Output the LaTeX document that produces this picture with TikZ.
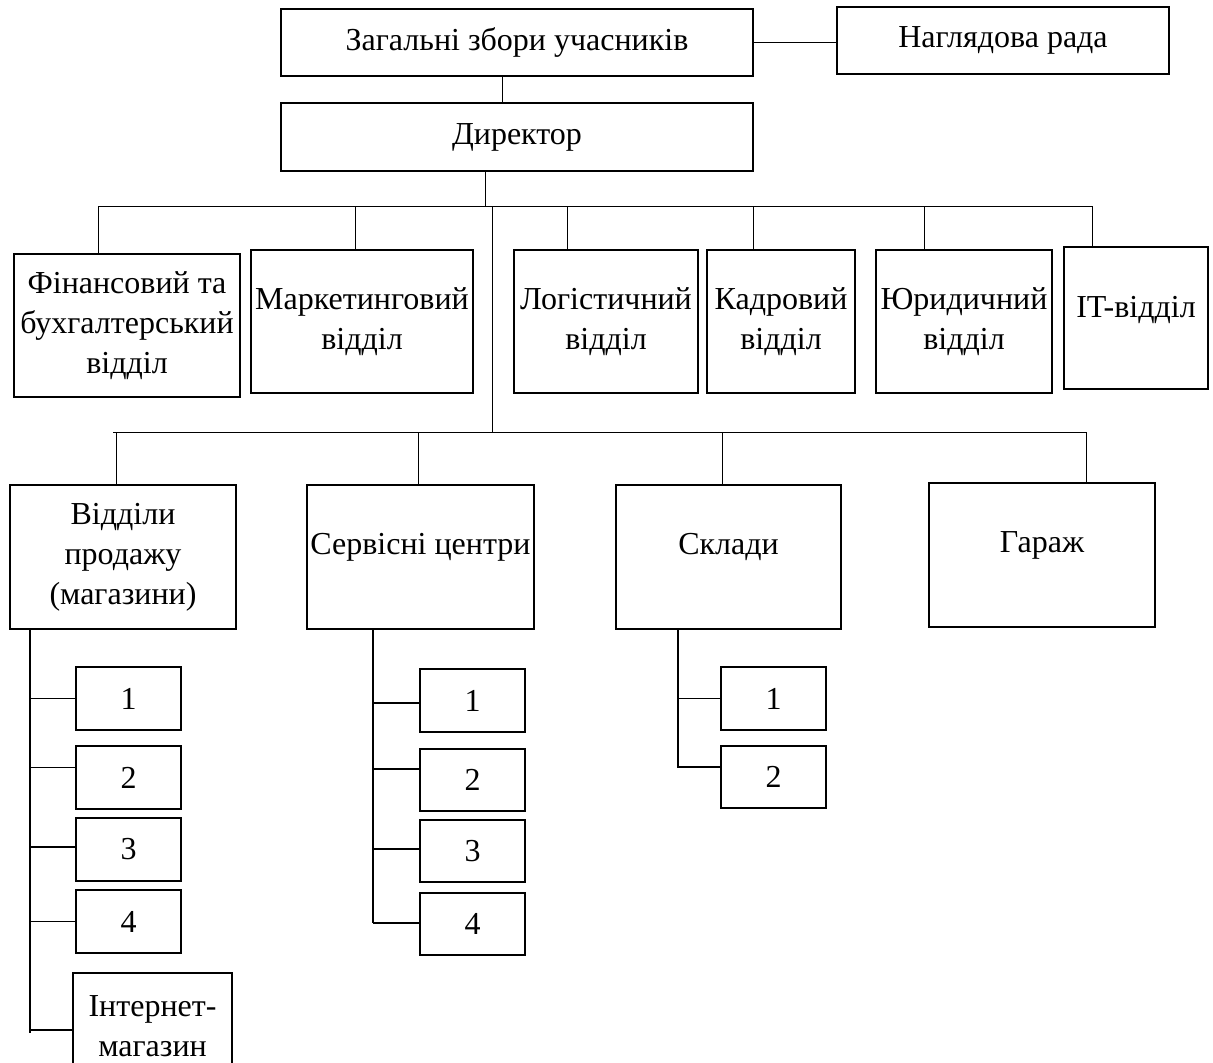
\documentclass[tikz,border=0pt]{standalone}
\usepackage{fontspec}
\setmainfont{Liberation Serif}
\begin{document}
\begin{tikzpicture}[x=1pt,y=-1pt,
  box/.style={draw, line width=2.2pt, inner sep=0pt, align=center, font=\fontsize{32}{40}\selectfont},
  upshift/.style={text height=22pt, text depth=#1},
  conn/.style={line width=1pt},
  sub/.style={line width=1.8pt},
  tick/.style={line width=1.4pt}]
\clip (0,0) rectangle (1213,1063);
\fill[white] (0,0) rectangle (1213,1063);
% top
\node[box, minimum width=472pt, minimum height=67pt] (z) at (517,42.5) {Загальні збори учасників};
\node[box, minimum width=332pt, minimum height=67pt] (n) at (1003,40.5) {Наглядова рада};
\node[box, minimum width=472pt, minimum height=68pt] (d) at (517,137) {Директор};
% departments
\node[box, minimum width=226pt, minimum height=143pt] (fin) at (127,325.5) {Фінансовий та\\бухгалтерський\\відділ};
\node[box, minimum width=222pt, minimum height=143pt] (mark) at (362,321.5) {Маркетинговий\\відділ};
\node[box, minimum width=184pt, minimum height=143pt] (log) at (606,321.5) {Логістичний\\відділ};
\node[box, minimum width=148pt, minimum height=143pt] (kadr) at (781,321.5) {Кадровий\\відділ};
\node[box, minimum width=176pt, minimum height=143pt] (yur) at (964,321.5) {Юридичний\\відділ};
\node[box, minimum width=144pt, minimum height=142pt, upshift=23pt] (it) at (1136,318) {IT-відділ};
% lower level
\node[box, minimum width=226pt, minimum height=144pt] (vid) at (123,557) {Відділи\\продажу\\(магазини)};
\node[box, minimum width=227pt, minimum height=144pt, upshift=27pt] (serv) at (420.5,557) {Сервісні центри};
\node[box, minimum width=225pt, minimum height=144pt, upshift=27pt] (skl) at (728.5,557) {Склади};
\node[box, minimum width=226pt, minimum height=144pt, upshift=27pt] (gar) at (1042,555) {Гараж};
% shops
\node[box, minimum width=105pt, minimum height=63pt] (v1) at (128.5,698.5) {1};
\node[box, minimum width=105pt, minimum height=63pt] (v2) at (128.5,777.5) {2};
\node[box, minimum width=105pt, minimum height=63pt] (v3) at (128.5,849.5) {3};
\node[box, minimum width=105pt, minimum height=63pt] (v4) at (128.5,921.5) {4};
\node[box, minimum width=159pt, minimum height=107pt] (vi) at (152.5,1026.5) {Інтернет-\\магазин};
% service centres
\node[box, minimum width=105pt, minimum height=63pt] (s1) at (472.5,700.5) {1};
\node[box, minimum width=105pt, minimum height=62pt] (s2) at (472.5,780) {2};
\node[box, minimum width=105pt, minimum height=62pt] (s3) at (472.5,851) {3};
\node[box, minimum width=105pt, minimum height=62pt] (s4) at (472.5,924) {4};
% warehouses
\node[box, minimum width=105pt, minimum height=63pt] (k1) at (773.5,698.5) {1};
\node[box, minimum width=105pt, minimum height=62pt] (k2) at (773.5,777) {2};
% connectors top
\draw[conn] (z.east) -- (z.east -| n.west);
\draw[conn] ([xshift=-15pt]z.south) -- ([xshift=-15pt]z.south |- d.north);
\coordinate (b1a) at (98,206);
\coordinate (b1b) at (1092,206);
\coordinate (b1m) at (355,206);
\coordinate (b1l) at (567,206);
\coordinate (b1k) at (753,206);
\coordinate (b1y) at (924,206);
\draw[conn] ([xshift=-32pt]d.south) -- ([xshift=-32pt]d.south |- b1a);
\draw[conn] (b1a) -- (b1b);
\draw[conn] (b1a) -- (b1a |- fin.north);
\draw[conn] (b1m) -- (b1m |- mark.north);
\draw[conn] (b1l) -- (b1l |- log.north);
\draw[conn] (b1k) -- (b1k |- kadr.north);
\draw[conn] (b1y) -- (b1y |- yur.north);
\draw[conn] (b1b) -- (b1b |- it.north);
% trunk and lower bus
\coordinate (tr) at (492,206);
\coordinate (b2a) at (113,432);
\coordinate (b2b) at (1086,432);
\coordinate (b2v) at (116,432);
\coordinate (b2s) at (418,432);
\coordinate (b2k) at (722,432);
\draw[conn] (tr) -- (tr |- b2a);
\draw[conn] (b2a) -- (b2b);
\draw[conn] (b2v) -- (b2v |- vid.north);
\draw[conn] (b2s) -- (b2s |- serv.north);
\draw[conn] (b2k) -- (b2k |- skl.north);
\draw[conn] (b2b) -- (b2b |- gar.north);
% shops subtree
\coordinate (va) at (30,629);
\coordinate (vb) at (30,1033);
\draw[sub] (va) -- (vb);
\draw[tick] (v1.west) -- (v1.west -| va);
\draw[tick] ([yshift=10pt]v2.west) -- ([yshift=10pt]v2.west -| va);
\draw[tick] ([yshift=2.5pt]v3.west) -- ([yshift=2.5pt]v3.west -| va);
\draw[tick] (v4.west) -- (v4.west -| va);
\draw[tick] ([yshift=-3.5pt]vi.west) -- ([yshift=-3.5pt]vi.west -| va);
% service subtree
\coordinate (sa) at (373,629);
\coordinate (sb) at (373,923);
\draw[sub] (sa) -- (sb);
\draw[tick] ([yshift=-2.5pt]s1.west) -- ([yshift=-2.5pt]s1.west -| sa);
\draw[tick] ([yshift=11pt]s2.west) -- ([yshift=11pt]s2.west -| sa);
\draw[tick] ([yshift=2pt]s3.west) -- ([yshift=2pt]s3.west -| sa);
\draw[tick] ([yshift=1pt]s4.west) -- ([yshift=1pt]s4.west -| sa);
% warehouse subtree
\coordinate (ka) at (678,629);
\coordinate (kb) at (678,768);
\draw[sub] (ka) -- (kb);
\draw[tick] (k1.west) -- (k1.west -| ka);
\draw[tick] ([yshift=10pt]k2.west) -- ([yshift=10pt]k2.west -| ka);
\end{tikzpicture}
\end{document}
